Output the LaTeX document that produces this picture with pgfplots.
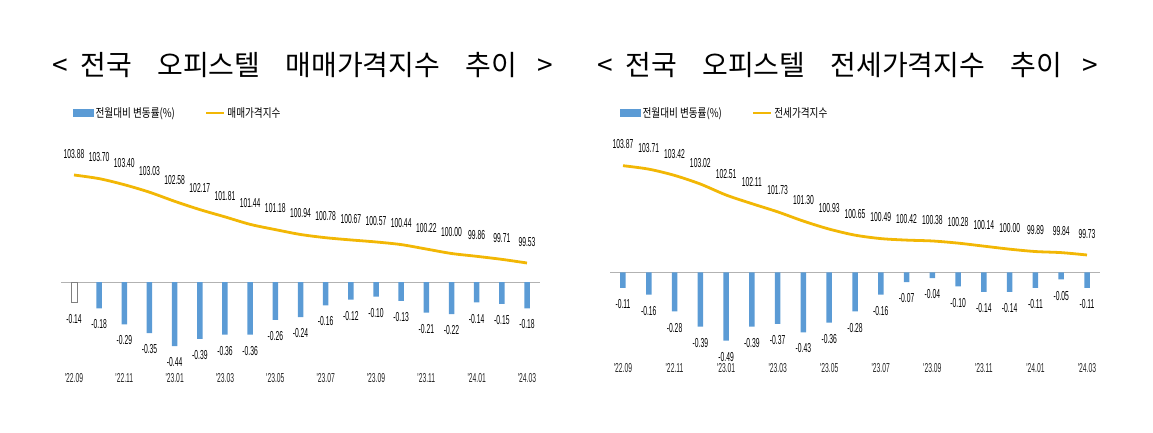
\documentclass[border=0pt]{standalone}
\usepackage{pgfplots}
\pgfplotsset{compat=1.18}
\usepackage{fontspec}
\newfontfamily\krfont{Noto Sans CJK KR}
\newfontfamily\krnarrow[FakeStretch=0.8]{Noto Sans CJK KR}
\newfontfamily\numfont[FakeStretch=0.52]{Liberation Sans}
\definecolor{barblue}{RGB}{91,155,213}
\definecolor{linegold}{RGB}{242,183,5}
\pgfplotsset{
  base/.style={scale only axis, axis line style={draw=none}, major tick length=0pt,
    ytick=\empty, clip=false, xmin=-0.5, xmax=18.5},
  barax/.style={base, xtick={0,2,...,18},
    xticklabels={'22.09,'22.11,'23.01,'23.03,'23.05,'23.07,'23.09,'23.11,'24.01,'24.03},
    xticklabel style={font=\numfont\fontsize{13}{13}\selectfont, text=black!85},
    extra y ticks={0}, extra y tick labels={},
    extra y tick style={grid=major, major grid style={draw=gray!60, line width=0.8pt}},
    legend cell align=left,
    legend style={draw=none, fill=none, legend columns=2, inner sep=0pt,
      font=\krnarrow\fontsize{12}{12}\selectfont, anchor=west,
      /tikz/every even column/.append style={column sep=28pt}}},
  barlab/.style={point meta=explicit symbolic, nodes near coords,
    every node near coord/.append style={font=\numfont\fontsize{13}{13}\selectfont, anchor=north, yshift=-8pt, text=black}},
  linelab/.style={point meta=explicit symbolic, nodes near coords,
    every node near coord/.append style={font=\numfont\fontsize{13}{13}\selectfont, anchor=south, yshift=12pt, text=black}},
  mybar/.style={ybar, bar width=5.5pt, bar shift=0pt},
  myline/.style={linegold, line width=2.8pt, smooth, mark=none}
}
\begin{document}
\begin{tikzpicture}
\useasboundingbox (0,0) rectangle (1153pt,432pt);
% titles
\node[font=\krfont\fontsize{28}{28}\selectfont] at (303pt,367pt) {<\hspace{0.45em}전국\hspace{0.9em}오피스텔\hspace{0.9em}매매가격지수\hspace{0.9em}추이\hspace{0.75em}>};
\node[font=\krfont\fontsize{28}{28}\selectfont] at (848pt,367pt) {<\hspace{0.45em}전국\hspace{0.9em}오피스텔\hspace{0.9em}전세가격지수\hspace{0.9em}추이\hspace{0.75em}>};

% ---------- left panel: bars ----------
\begin{axis}[barax, at={(61.4pt,62pt)}, anchor=south west, width=478.2pt, height=230pt,
  ymin=-0.6027, ymax=0.9726, legend style={at={(0.0243,1.117)}}]
\addlegendimage{legend image code/.code={\fill[barblue] (0pt,-3.5pt) rectangle (20pt,3.5pt);}}
\addlegendimage{legend image code/.code={\draw[linegold, line width=2.5pt] (0pt,0pt) -- (18pt,0pt);}}
\addplot[mybar, fill=white, draw=gray, barlab] coordinates {(0,-0.14) [-0.14]};
\addplot[mybar, fill=barblue, draw=none, barlab] coordinates {
(1,-0.18) [-0.18] (2,-0.29) [-0.29] (3,-0.35) [-0.35] (4,-0.44) [-0.44]
(5,-0.39) [-0.39] (6,-0.36) [-0.36] (7,-0.36) [-0.36] (8,-0.26) [-0.26]
(9,-0.24) [-0.24] (10,-0.16) [-0.16] (11,-0.12) [-0.12] (12,-0.10) [-0.10]
(13,-0.13) [-0.13] (14,-0.21) [-0.21] (15,-0.22) [-0.22] (16,-0.14) [-0.14]
(17,-0.15) [-0.15] (18,-0.18) [-0.18]};
\legend{전월대비 변동률(\%), 매매가격지수}
\end{axis}
% ---------- left panel: line ----------
\begin{axis}[base, hide axis, at={(61.4pt,62pt)}, anchor=south west, width=478.2pt, height=230pt,
  ymin=94.241, ymax=105.610]
\addplot[myline, linelab] coordinates {
(0,103.88) [103.88] (1,103.70) [103.70] (2,103.40) [103.40] (3,103.03) [103.03]
(4,102.58) [102.58] (5,102.17) [102.17] (6,101.81) [101.81] (7,101.44) [101.44]
(8,101.18) [101.18] (9,100.94) [100.94] (10,100.78) [100.78] (11,100.67) [100.67]
(12,100.57) [100.57] (13,100.44) [100.44] (14,100.22) [100.22] (15,100.00) [100.00]
(16,99.86) [99.86] (17,99.71) [99.71] (18,99.53) [99.53]};
\end{axis}

% ---------- right panel: bars ----------
\begin{axis}[barax, at={(610.1pt,72pt)}, anchor=south west, width=489.8pt, height=220pt,
  ymin=-0.6295, ymax=0.9532, legend style={at={(0.0202,1.1227)}}]
\addlegendimage{legend image code/.code={\fill[barblue] (0pt,-3.5pt) rectangle (20pt,3.5pt);}}
\addlegendimage{legend image code/.code={\draw[linegold, line width=2.5pt] (0pt,0pt) -- (18pt,0pt);}}
\addplot[mybar, fill=barblue, draw=none, barlab] coordinates {
(0,-0.11) [-0.11] (1,-0.16) [-0.16] (2,-0.28) [-0.28] (3,-0.39) [-0.39] (4,-0.49) [-0.49]
(5,-0.39) [-0.39] (6,-0.37) [-0.37] (7,-0.43) [-0.43] (8,-0.36) [-0.36]
(9,-0.28) [-0.28] (10,-0.16) [-0.16] (11,-0.07) [-0.07] (12,-0.04) [-0.04]
(13,-0.10) [-0.10] (14,-0.14) [-0.14] (15,-0.14) [-0.14] (16,-0.11) [-0.11]
(17,-0.05) [-0.05] (18,-0.11) [-0.11]};
\legend{전월대비 변동률(\%), 전세가격지수}
\end{axis}
% ---------- right panel: line ----------
\begin{axis}[base, hide axis, at={(610.1pt,72pt)}, anchor=south west, width=489.8pt, height=220pt,
  ymin=94.862, ymax=105.061]
\addplot[myline, linelab] coordinates {
(0,103.87) [103.87] (1,103.71) [103.71] (2,103.42) [103.42] (3,103.02) [103.02]
(4,102.51) [102.51] (5,102.11) [102.11] (6,101.73) [101.73] (7,101.30) [101.30]
(8,100.93) [100.93] (9,100.65) [100.65] (10,100.49) [100.49] (11,100.42) [100.42]
(12,100.38) [100.38] (13,100.28) [100.28] (14,100.14) [100.14] (15,100.00) [100.00]
(16,99.89) [99.89] (17,99.84) [99.84] (18,99.73) [99.73]};
\end{axis}
\end{tikzpicture}
\end{document}
